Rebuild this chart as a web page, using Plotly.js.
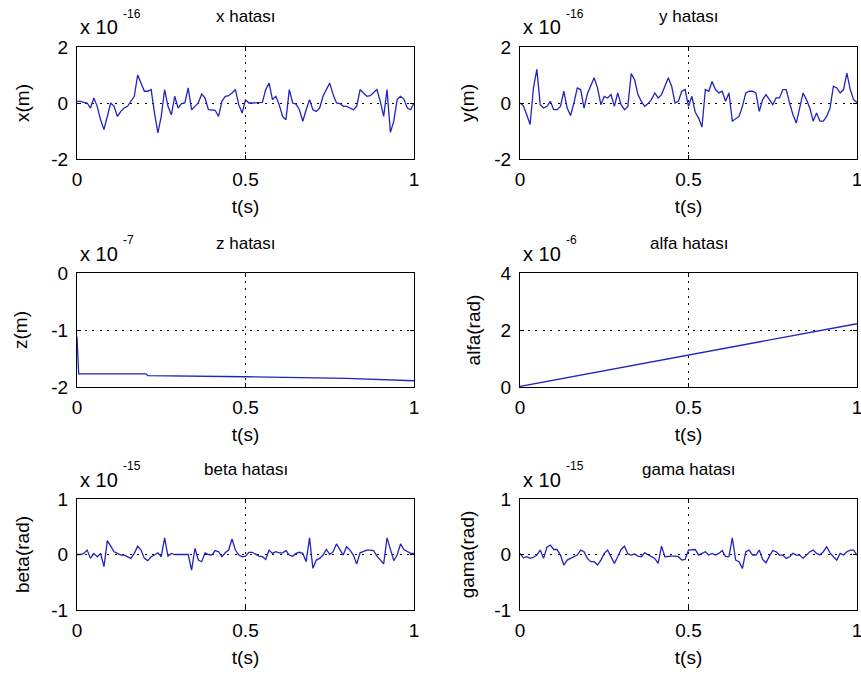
<!DOCTYPE html>
<html><head><meta charset="utf-8">
<script src="https://cdn.plot.ly/plotly-3.0.1.min.js"></script>
<style>html,body{margin:0;padding:0;background:#fff}#chart{width:861px;height:681px}</style>
</head><body><div id="chart"></div>
<script>
// time samples (s)
const t = [0,0.01,0.02,0.03,0.04,0.05,0.06,0.07,0.08,0.09,0.1,0.11,0.12,0.13,0.14,0.15,0.16,0.17,0.18,0.19,0.2,0.21,0.22,0.23,0.24,0.25,0.26,0.27,0.28,0.29,0.3,0.31,0.32,0.33,0.34,0.35,0.36,0.37,0.38,0.39,0.4,0.41,0.42,0.43,0.44,0.45,0.46,0.47,0.48,0.49,0.5,0.51,0.52,0.53,0.54,0.55,0.56,0.57,0.58,0.59,0.6,0.61,0.62,0.63,0.64,0.65,0.66,0.67,0.68,0.69,0.7,0.71,0.72,0.73,0.74,0.75,0.76,0.77,0.78,0.79,0.8,0.81,0.82,0.83,0.84,0.85,0.86,0.87,0.88,0.89,0.9,0.91,0.92,0.93,0.94,0.95,0.96,0.97,0.98,0.99,1];
// x error (x 1e-16 m)
const xErr = [0.06,0.06,0.02,0,-0.18,0.18,-0.12,-0.6,-0.95,-0.42,0,-0.12,-0.48,-0.3,-0.18,-0.12,0.06,0.24,1.0,0.7,0.42,0.42,0.48,-0.36,-1.07,-0.48,0.48,-0.12,-0.42,0.24,-0.18,-0.02,0,0.54,-0.24,-0.12,0,0.32,0.18,-0.24,-0.26,-0.26,-0.48,0.06,0.24,0.26,0.36,0.48,-0.06,-0.36,0.12,0,0,0,0,0.02,0.48,0.71,0.12,0.24,-0.06,-0.48,-0.6,0.48,0,-0.04,-0.24,-0.65,-0.24,0.12,-0.24,-0.3,-0.18,0.24,0.48,0.71,0.3,0,-0.02,-0.12,-0.12,-0.18,-0.24,-0.12,0.48,0.36,0.24,0.26,0.36,0.48,0.06,-0.48,0.48,-1.05,-0.65,0.12,0.24,0.14,-0.18,-0.24,0];
// y error (x 1e-16 m)
const yErr = [0,-0.1,-0.42,-0.77,0.54,1.2,-0.06,-0.18,-0.12,0.06,-0.24,-0.24,-0.12,0.42,-0.18,-0.45,0,0.54,0.48,-0.18,0.33,0.65,0.9,0.54,-0.06,0.24,0.18,0.3,-0.12,0.36,-0.06,-0.24,-0.12,1.05,0.83,0.3,0.06,-0.12,-0.02,0.12,0.36,0.18,0.3,0.6,0.9,0.6,0,0.06,0.42,0.48,-0.12,0.24,-0.33,-0.54,-0.86,0.48,0.42,0.77,0.48,0.36,0.42,0.06,0.36,-0.65,-0.57,-0.48,-0.12,0.36,0.42,0.42,0.36,-0.3,0.12,0.3,0.12,-0.06,0.18,0.18,0.48,0.48,0,-0.42,-0.71,-0.12,0.36,0.12,-0.18,-0.65,-0.36,-0.65,-0.65,-0.48,-0.18,0.6,0.54,0.36,0.48,1.07,0.48,0.12,0.02];
// z error samples (x 1e-7 m)
const tZ = [0,0.005,0.205,0.21,0.5,0.8,1];
const zErr = [-1.12,-1.77,-1.77,-1.8,-1.82,-1.85,-1.89];
// alfa error samples (x 1e-6 rad)
const tA = [0,0.5,1];
const alfaErr = [0.02,1.12,2.22];
// beta error (x 1e-15 rad)
const betaErr = [0,0,0.02,0.08,-0.07,0.02,-0.04,0.02,-0.22,0.25,0.15,0.05,0.02,-0.01,-0.01,-0.04,-0.07,0.02,0.15,0.08,-0.07,-0.11,-0.04,-0.01,0.03,-0.04,0.3,-0.03,0.02,0,0,0,0,0,-0.28,0.11,-0.1,-0.13,0.03,0,-0.01,0.07,0.05,-0.04,0.03,0.08,0.28,0.08,-0.01,-0.04,-0.03,0.04,0.04,0,-0.03,-0.04,-0.09,0.08,0.02,0.05,0.03,0.03,0.07,-0.01,-0.03,0.02,0.04,0.02,-0.13,0.3,-0.25,-0.1,-0.07,-0.01,0.09,0,0.05,0.19,0.09,-0.01,0.14,0.08,-0.01,-0.17,0.03,0.05,0.08,0.08,0.07,-0.03,-0.1,-0.17,0.3,0.08,-0.11,-0.01,0.19,0.09,0.05,0.02,0.02];
// gama error (x 1e-15 rad)
const gamaErr = [0.02,-0.06,-0.04,-0.07,-0.05,-0.01,0.08,-0.07,0.13,0.17,0.09,0.09,-0.01,-0.19,-0.1,-0.07,-0.04,-0.01,0.08,0.05,-0.07,-0.13,-0.13,-0.19,-0.1,0.02,0.08,-0.03,-0.16,-0.04,0.09,0.15,0.01,-0.01,0.01,-0.03,-0.04,0.03,0,-0.04,-0.07,-0.16,0.15,-0.04,-0.03,-0.03,-0.03,-0.04,-0.1,-0.09,0.08,0.08,0.09,-0.01,0.02,0.05,-0.01,0.02,-0.01,0.02,0.07,-0.04,-0.04,0.3,-0.1,-0.13,-0.25,0.05,0.08,-0.01,-0.01,0.08,-0.09,-0.15,-0.03,0.07,0.05,-0.01,-0.01,-0.07,-0.04,0.02,-0.01,-0.01,-0.07,-0.01,0.05,0.08,0.02,-0.01,0.05,0.14,0.03,-0.04,-0.1,0.02,-0.01,0.05,0.08,0.08,-0.01];

const titles = ['x hatası','y hatası','z hatası','alfa hatası','beta hatası','gama hatası'];
const yTitles = ['x(m)','y(m)','z(m)','alfa(rad)','beta(rad)','gama(rad)'];
const exponents = ['-16','-16','-7','-6','-15','-15'];
const xTickVals = [0,0.5,1];
const xTickText = ['0','0.5','1'];
const yRanges = [[-2,2],[-2,2],[-2,0],[0,4],[-1,1],[-1,1]];
const yTickVals = [[-2,0,2],[-2,0,2],[-2,-1,0],[0,2,4],[-1,0,1],[-1,0,1]];
const yTickText = [['-2','0','2'],['-2','0','2'],['-2','-1','0'],['0','2','4'],['-1','0','1'],['-1','0','1']];

const W = 861, H = 681;
const colPx = [[77,414],[520,857]];
const rowPx = [[47,159],[273,387],[499,610]];
const FONT = 'Liberation Sans, Arial, sans-serif';
const LINE = '#2323c0';
const yStandoff = [16, 14, 18, 14, 16, 14];

const xs = [t, t, tZ, tA, t, t];
const ys = [xErr, yErr, zErr, alfaErr, betaErr, gamaErr];

const data = [];
const layout = {
  width: W, height: H, margin: {l:0,r:0,t:0,b:0},
  paper_bgcolor: '#fff', plot_bgcolor: '#fff', showlegend: false,
  font: {family: FONT, color: '#000', size: 19},
  annotations: []
};
for (let i = 0; i < 6; i++) {
  const c = i % 2, r = Math.floor(i / 2);
  const sfx = i === 0 ? '' : String(i + 1);
  data.push({x: xs[i], y: ys[i], type: 'scatter', mode: 'lines',
    line: {color: LINE, width: 1.3}, xaxis: 'x' + sfx, yaxis: 'y' + sfx, hoverinfo: 'skip'});
  const common = {showline: true, mirror: 'ticks', linecolor: '#000', linewidth: 1,
    ticks: 'inside', ticklen: 4, tickcolor: '#000', zeroline: false,
    showgrid: true, gridcolor: '#000', griddash: '2px,5.5px', gridwidth: 1,
    ticklabeloverflow: 'allow',
    tickfont: {family: FONT, size: 19, color: '#000'}, fixedrange: true};
  layout['xaxis' + sfx] = Object.assign({}, common, {
    domain: [colPx[c][0] / W, colPx[c][1] / W], anchor: 'y' + sfx, range: [0, 1],
    tickmode: 'array', tickvals: xTickVals, ticktext: xTickText, ticklabelstandoff: 3,
    title: {text: 't(s)', font: {family: FONT, size: 19}, standoff: 10}
  });
  layout['yaxis' + sfx] = Object.assign({}, common, {
    domain: [1 - rowPx[r][1] / H, 1 - rowPx[r][0] / H], anchor: 'x' + sfx, range: yRanges[i],
    tickmode: 'array', tickvals: yTickVals[i], ticktext: yTickText[i], ticklabelstandoff: 4,
    title: {text: yTitles[i], font: {family: FONT, size: 19}, standoff: yStandoff[i]}
  });
  const cx = (colPx[c][0] + colPx[c][1]) / 2;
  layout.annotations.push({text: titles[i], xref: 'paper', yref: 'paper',
    x: cx / W, y: 1 - (rowPx[r][0] - 30) / H, xanchor: 'center', yanchor: 'middle',
    showarrow: false, font: {family: FONT, size: 17, color: '#000'}});
  layout.annotations.push({text: 'x 10', xref: 'paper', yref: 'paper',
    x: (colPx[c][0] + 1) / W, y: 1 - (rowPx[r][0] - 19.5) / H, xanchor: 'left', yanchor: 'middle',
    showarrow: false, font: {family: FONT, size: 20, color: '#000'}});
  layout.annotations.push({text: exponents[i], xref: 'paper', yref: 'paper',
    x: (colPx[c][0] + 44) / W, y: 1 - (rowPx[r][0] - 33) / H, xanchor: 'left', yanchor: 'middle',
    showarrow: false, font: {family: FONT, size: 12, color: '#000'}});
}
Plotly.newPlot('chart', data, layout, {staticPlot: true, displayModeBar: false});
</script>
</body></html>
